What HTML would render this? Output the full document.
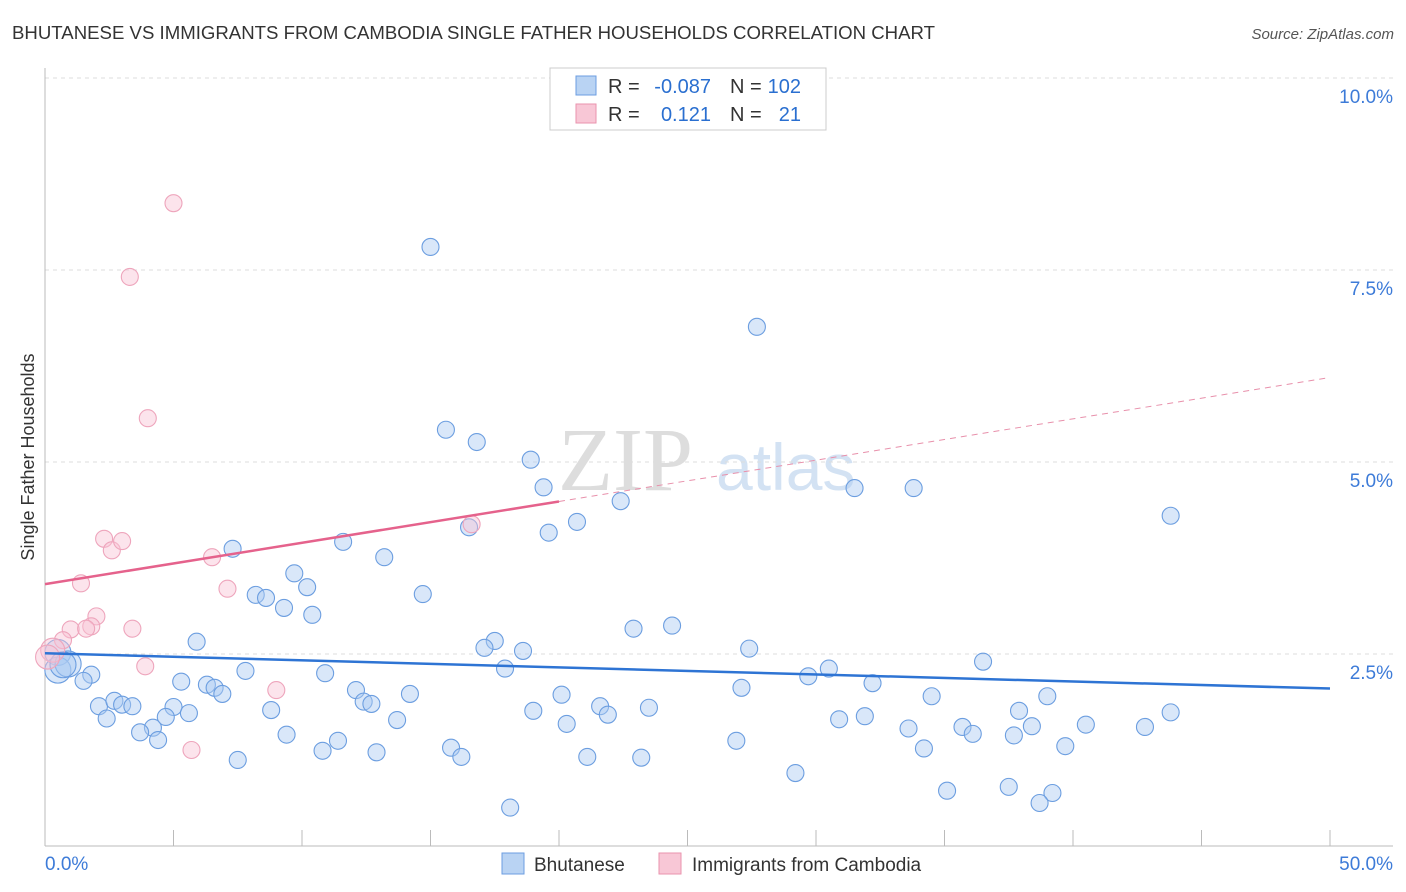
<!DOCTYPE html>
<html><head><meta charset="utf-8"><style>
body{margin:0;background:#fff;font-family:"Liberation Sans",sans-serif;}
svg{display:block}
</style></head><body>
<svg id="c" width="1406" height="892" xmlns="http://www.w3.org/2000/svg">
<text x="12" y="39" font-size="18" fill="#333" textLength="923" lengthAdjust="spacingAndGlyphs">BHUTANESE VS IMMIGRANTS FROM CAMBODIA SINGLE FATHER HOUSEHOLDS CORRELATION CHART</text>
<text x="1394" y="39" font-size="15" fill="#555" font-style="italic" text-anchor="end">Source: ZipAtlas.com</text>
<text x="34" y="457" font-size="18" fill="#333" text-anchor="middle" transform="rotate(-90 34 457)">Single Father Households</text>
<text x="558" y="490" font-size="90" fill="#ddd" font-family="Liberation Serif,serif">ZIP</text>
<text x="716" y="490" font-size="66" fill="#d3e2f3">atlas</text>
<g id="grid"></g><g id="pts"></g><g id="lines"></g>
<g>
<rect x="550" y="68" width="276" height="62" fill="#fff" stroke="#ccc"/>
<rect x="576" y="76" width="20" height="19" fill="#b9d3f3" stroke="#6c9ee0"/>
<rect x="576" y="104" width="20" height="19" fill="#f8c7d6" stroke="#ea93ae"/>
<text x="608" y="93" font-size="20" fill="#333">R =</text>
<text x="711" y="93" font-size="20" fill="#2a6fd0" text-anchor="end">-0.087</text>
<text x="730" y="93" font-size="20" fill="#333">N =</text>
<text x="801" y="93" font-size="20" fill="#2a6fd0" text-anchor="end">102</text>
<text x="608" y="121" font-size="20" fill="#333">R =</text>
<text x="711" y="121" font-size="20" fill="#2a6fd0" text-anchor="end">0.121</text>
<text x="730" y="121" font-size="20" fill="#333">N =</text>
<text x="801" y="121" font-size="20" fill="#2a6fd0" text-anchor="end">21</text>
</g>
<g>
<rect x="502" y="853" width="22" height="21" fill="#b9d3f3" stroke="#6c9ee0"/>
<text x="534" y="871" font-size="19" fill="#333">Bhutanese</text>
<rect x="659" y="853" width="22" height="21" fill="#f8c7d6" stroke="#ea93ae"/>
<text x="692" y="871" font-size="19" fill="#333">Immigrants from Cambodia</text>
</g>
</svg>
<script>
const xTicks=[0,5,10,15,20,25,30,35,40,45,50];
const yTicks=[2.5,5,7.5,10];
const yTickLabels=["2.5%","5.0%","7.5%","10.0%"];
const bhutaneseX=[15,27.7,15.6,16.8,18.9,19.4,31.5,33.8,22.4,20.7,16.5,19.6,43.8,11.6,7.3,13.2,9.7,10.2,8.2,8.6,9.3,14.7,10.4,5.9,22.9,24.4,17.5,17.1,18.6,27.4,36.5,10.9,7.8,17.9,30.5,1.8,1.5,29.7,32.2,5.3,6.3,6.6,6.9,12.1,14.2,27.1,20.1,34.5,39,12.4,12.7,2.1,2.7,3,3.4,5,8.8,5.6,19,21.6,21.9,23.5,37.9,43.8,2.4,4.7,13.7,20.3,30.9,31.9,33.6,35.7,38.4,40.5,42.8,4.2,3.7,9.4,36.1,37.7,4.4,11.4,26.9,39.7,10.8,15.8,34.2,12.9,16.2,7.5,21.1,23.2,29.2,35.1,37.5,39.2,38.7,18.1,0.5,0.5,0.9,0.7];
const bhutaneseY=[7.8,6.76,5.42,5.26,5.03,4.67,4.66,4.66,4.49,4.22,4.15,4.08,4.3,3.96,3.87,3.76,3.55,3.37,3.27,3.23,3.1,3.28,3.01,2.66,2.83,2.87,2.67,2.58,2.54,2.57,2.4,2.25,2.28,2.31,2.31,2.23,2.15,2.21,2.12,2.14,2.1,2.06,1.98,2.03,1.98,2.06,1.97,1.95,1.95,1.88,1.85,1.82,1.89,1.84,1.82,1.81,1.77,1.73,1.76,1.82,1.71,1.8,1.76,1.74,1.66,1.68,1.64,1.59,1.65,1.69,1.53,1.55,1.56,1.58,1.55,1.54,1.48,1.45,1.46,1.44,1.38,1.37,1.37,1.3,1.24,1.28,1.27,1.22,1.16,1.12,1.16,1.15,0.95,0.72,0.77,0.69,0.56,0.5,2.52,2.29,2.37,2.36];
const cambodiaX=[5,3.3,4,2.3,2.6,3,6.5,1.4,7.1,2,1,1.8,1.6,3.4,0.7,0.3,0.1,3.9,16.6,9,5.7];
const cambodiaY=[8.37,7.41,5.57,4.0,3.85,3.97,3.76,3.42,3.35,2.99,2.82,2.86,2.83,2.83,2.68,2.55,2.46,2.34,4.19,2.03,1.25];
const blueTrend=[2.51,2.05];
const pinkTrend=[3.41,6.1];
const NS="http://www.w3.org/2000/svg";
const X=v=>45+v/50*1285, Y=v=>846-v/10*768;
function el(t,a,p){const e=document.createElementNS(NS,t);for(const k in a)e.setAttribute(k,a[k]);document.getElementById(p).appendChild(e);return e;}
yTicks.forEach((t,i)=>{
 const g=el('line',{x1:45,x2:1393,y1:Y(t),y2:Y(t),stroke:'#ddd','stroke-dasharray':'4,4'},'grid');
 
 
 const l=el('text',{x:1393,y:Y(t)+25,'font-size':19,fill:'#3d7bd8','text-anchor':'end'},'grid');
 l.textContent=yTickLabels[i];
 
 
});
el('line',{x1:45,x2:45,y1:68,y2:846,stroke:'#bbb'},'grid');
el('line',{x1:45,x2:1393,y1:846,y2:846,stroke:'#bbb'},'grid');
xTicks.forEach(t=>{const k=el('line',{x1:X(t),x2:X(t),y1:830,y2:846,stroke:'#bbb'},'grid');
 
 });
[[0,'0.0%','start',45],[50,'50.0%','end',1393]].forEach(d=>{const l=el('text',{x:d[3],y:870,'font-size':19,fill:'#3d7bd8','text-anchor':d[2]},'grid');l.textContent=d[1];
 
 });
bhutaneseX.forEach((v,i)=>{const c=el('circle',{cx:X(v),cy:Y(bhutaneseY[i]),r:(v<1?13:8.5),fill:'rgba(170,202,242,0.45)',stroke:'#6c9ee0','stroke-width':1.1},'pts');
 
 });
cambodiaX.forEach((v,i)=>{const c=el('circle',{cx:X(v),cy:Y(cambodiaY[i]),r:(v<0.5?12:8.5),fill:'rgba(248,196,212,0.45)',stroke:'#eea5bc','stroke-width':1.1},'pts');
 
 });
const bl=el('line',{x1:X(0),y1:Y(blueTrend[0]),x2:X(50),y2:Y(blueTrend[1]),stroke:'#2e74d4','stroke-width':2.5},'lines');


const pAt=x=>pinkTrend[0]+(pinkTrend[1]-pinkTrend[0])*x/50;
const pl=el('line',{x1:X(0),y1:Y(pAt(0)),x2:X(20),y2:Y(pAt(20)),stroke:'#e5628c','stroke-width':2.5},'lines');


const pd=el('line',{x1:X(20),y1:Y(pAt(20)),x2:X(50),y2:Y(pAt(50)),stroke:'#e890ab','stroke-width':1,'stroke-dasharray':'6,5'},'lines');


</script>
</body></html>
